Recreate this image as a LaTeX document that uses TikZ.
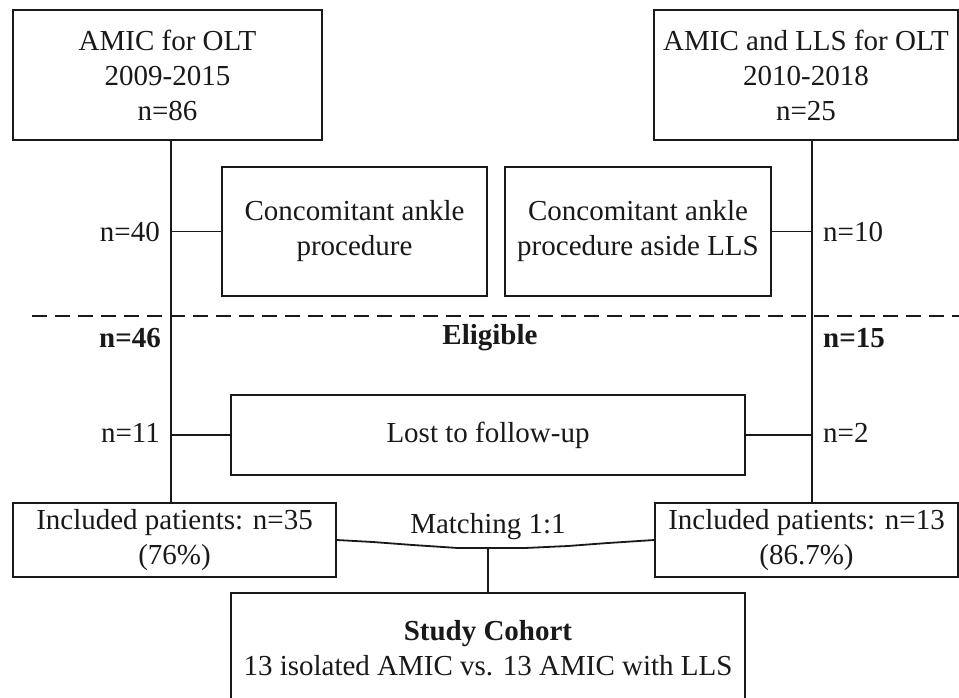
\documentclass[tikz,border=0pt]{standalone}
\usepackage{fontspec}
\setmainfont{Liberation Serif}
\begin{document}
\begin{tikzpicture}[x=1pt,y=-1pt,
  every node/.style={font=\fontsize{29}{35}\selectfont, text=black!90},
  box/.style={draw=black!90, line width=1.8pt, rectangle, inner sep=0pt, align=center, fill=white},
  conn/.style={draw=black!90, line width=1.8pt},
  lbl/.style={inner sep=0pt}]
\useasboundingbox (0,0) rectangle (959,697);
\fill[white] (0,0) rectangle (959,697);
\clip (0,0) rectangle (959,697);

% coordinates of the two vertical trunks
\coordinate (lt) at (171,140);
\coordinate (lb) at (171,503);
\coordinate (rt) at (812,140);
\coordinate (rb) at (812,503);

% boxes
\node[box, minimum width=309pt, minimum height=130pt] (A) at (167.5,75) {AMIC for OLT\\2009-2015\\n=86};
\node[box, minimum width=304pt, minimum height=130pt] (B) at (806,75) {AMIC and LLS for OLT\\2010-2018\\n=25};
\node[box, minimum width=265pt, minimum height=129pt] (C1) at (354.5,231.5) {Concomitant ankle\\procedure};
\node[box, minimum width=266pt, minimum height=129pt] (C2) at (638,231.5) {Concomitant ankle\\procedure aside LLS};
\node[box, minimum width=514pt, minimum height=80pt] (L) at (488,435) {Lost to follow-up};
\node[box, minimum width=323pt, minimum height=74pt] (I1) at (174.5,540) {Included patients: n=35\\(76\%)};
\node[box, minimum width=303pt, minimum height=74pt] (I2) at (806.5,540) {Included patients: n=13\\(86.7\%)};
\node[box, minimum width=514pt, minimum height=111pt] (S) at (488,648.5) {\textbf{Study Cohort}\\13 isolated AMIC vs. 13 AMIC with LLS};

% trunks
\draw[conn] (lt) -- (lb);
\draw[conn] (rt) -- (rb);

% side connectors
\draw[conn] (C1.west) -- (C1.west -| lt);
\draw[conn] (C2.east) -- (C2.east -| rt);
\draw[conn] (L.west) -- (L.west -| lt);
\draw[conn] (L.east) -- (L.east -| rt);

% dashed eligibility line
\coordinate (dl) at (32,316);
\coordinate (dr) at (959,316);
\draw[draw=black!90, line width=2.2pt, dash pattern=on 15pt off 8pt] (dl) -- (dr);

% labels
\node[lbl, anchor=east] (n40) at (160,232) {n=40};
\node[lbl, anchor=west] (n10) at (823,232) {n=10};
\node[lbl, anchor=east] (n46) at (161,338) {\textbf{n=46}};
\node[lbl] (elig) at (490,338) {\textbf{Eligible}};
\node[lbl, anchor=west] (n15) at (823,338) {\textbf{n=15}};
\node[lbl, anchor=east] (n11) at (160,433) {n=11};
\node[lbl, anchor=west] (n2) at (823,433) {n=2};

% matching
\node[lbl] (match) at (488,527) {Matching 1:1};
\draw[conn] (I1.east) -- ++(36,2) -- ++(40,3) -- ++(45,3) coordinate (m1) -- ++(67,0) coordinate (m2) -- ++(43,-2) -- ++(40,-3) -- (I2.west);
\coordinate (mj) at (488,548);
\draw[conn] (mj) -- (S.north);
\end{tikzpicture}
\end{document}
